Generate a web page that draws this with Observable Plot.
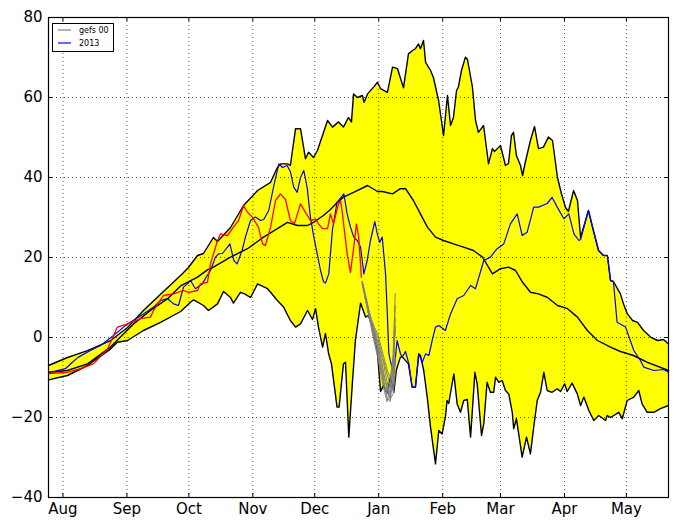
<!DOCTYPE html>
<html>
<head>
<meta charset="utf-8">
<script src="https://cdn.jsdelivr.net/npm/d3@7"></script>
<script src="https://cdn.jsdelivr.net/npm/@observablehq/plot@0.6"></script>
<style>
  html, body { margin: 0; padding: 0; background: #fff; }
  #wrap { position: relative; width: 677px; height: 528px; }
  #legend { position: absolute; left: 52px; top: 23px; }
</style>
</head>
<body>
<div id="wrap"></div>
<script>
// Day offsets are counted from 25 Jul 2013.
const startDay = Date.UTC(2013, 6, 25);
const toDate = d => new Date(startDay + d * 864e5);

const monthTicks = ["2013-08-01","2013-09-01","2013-10-01","2013-11-01","2013-12-01","2014-01-01","2014-02-01","2014-03-01","2014-04-01","2014-05-01"];
const monthLabels = ["Aug","Sep","Oct","Nov","Dec","Jan","Feb","Mar","Apr","May"];
const yTicks = [-40, -20, 0, 20, 40, 60, 80];
const legendLabels = ["gefs 00", "2013"];
const legendColors = ["#808080", "#0000ff"];

const upperDay = [0,9.2,18.9,30,38.3,46,55.7,64,67.8,72.2,75.1,79.9,81.9,88.2,94.5,101.3,107.6,110.9,112.4,115.8,117.2,119.7,122.1,124.5,126,128.4,130.3,135.2,137.6,140.5,142.9,145.3,146.8,147.8,149.7,152.1,152.9,154.6,157.5,159.4,160.9,164.2,166.7,169.1,172,174.4,176.4,177.8,179.3,180.2,181.7,182.7,185.1,186.5,189,191.4,193.3,194.8,196.2,197.7,198.6,200.1,202,203,205.4,206.9,208.3,210.8,213.2,215.1,216.1,219,221.4,222.9,224.3,225.3,226.7,228.7,229.7,231.1,233.5,235.5,237.4,239.8,242.2,244.2,246.6,248.5,250.5,251.9,254.4,256.3,257.8,261.6,264,266.5,268.9,270.8,272.3,273.7,277.1,278.6,280.5,283,285.4,288.3,291.7,295.1,298,300.4];
const upperVal = [-7,-5,-3.3,-0.8,2.5,6.75,11.5,15.5,17.5,20.5,21,25,24,27.5,33,36.75,38.8,42.5,43.4,43.4,43,52.2,52.2,44.7,46.3,45,46.75,54.25,52.6,53.9,52.6,55,53.9,60.9,60,60.5,58.8,60.9,62.6,63.8,62.2,61.3,67.6,67.2,62.4,70.9,71.75,72.2,73.4,72.2,74.25,68.8,66.75,65,59.25,50.5,60.5,53,55,61.75,62.6,66.75,70.1,69.5,62.6,54.25,51.3,53,43.4,47.2,46.5,48,43,43.5,50.5,51.3,45.5,43,40.5,44,49.25,52.75,47.2,47.6,50.1,49.25,40,36,32.5,31.5,36.75,34.25,25,31.75,26.75,21.75,20.5,20.5,14.25,14,10.9,8.4,5.9,4.25,3.8,1.75,0.1,-0.75,-0.5,-1.6];

const lowerDay = [0,9.2,18.9,30,33.4,38.3,46,54.3,64,68.8,70.3,75.1,77.5,81.9,84.8,88.2,89.6,93,95,97.9,101.3,106.1,107.6,110.9,113.9,117.2,119.7,122.1,125.5,127.9,129.4,130.8,132.8,134.2,135.7,137.1,139.8,140.8,142.9,143.9,145.5,147.1,148.7,151.2,153.6,155,157.5,159.4,160.9,162.3,164.1,165.7,167.3,168.6,170.5,171.5,174.4,176.2,177.8,179.4,180.2,181.8,183.5,185.1,187.5,189.1,190.7,192.3,193.1,193.9,196.4,198,199.6,201.2,202.9,204.5,206.6,207.7,209.8,210.9,212.5,214.1,215.7,216.6,218.2,219.8,221.4,223,224.7,225.4,226.7,229.5,231.6,233.5,235.1,236.8,238.4,240,241.6,244,246.5,248.1,250.1,251.3,253.7,256.2,257.8,259.4,261.8,264.2,266.6,269.9,270.7,272.3,276.3,278,280.4,283.6,286,287.6,290.1,293.3,296.5,300.4];
const lowerVal = [-10.6,-9.5,-7,-2.9,-1.2,-0.75,1.75,3.8,6.5,8.8,9.4,8,6.75,8.4,11.5,10,8.6,11.3,10.9,10,13.4,12.2,11.3,9.25,7.6,4.25,2.6,3.4,6.75,4.5,7.2,2.6,-2.4,1,-4,-6.6,-17.4,-17.4,-6.6,-6.2,-24.9,-12.4,-0.75,8.6,5.1,5.5,1.75,-4,-13.5,-12,-14,-10,-13.7,-8,-4.9,-4.9,-6.6,-12.4,-12.4,-4.1,-4.5,-8.25,-14.9,-22.4,-31.6,-23.25,-24.1,-19.9,-15.75,-16.5,-9.1,-16.6,-18.7,-15.75,-15.5,-24.9,-8.7,-11.6,-24.5,-21.6,-11.2,-13.7,-13.7,-9.9,-11.2,-10.75,-13.25,-14.1,-18.7,-22.8,-20.3,-29.9,-24.9,-29.1,-22.4,-15.75,-13.7,-8.7,-13.25,-13.7,-12.8,-13.5,-11.6,-13.5,-11.4,-14.1,-17,-14.9,-18.25,-20.75,-19.5,-20.75,-19.5,-20,-18.7,-20.3,-15.75,-14.9,-13.25,-16.6,-18.7,-18.7,-17.8,-17];

const meanDay = [0,9.2,18.9,30,41.2,49.4,57.7,64,67.3,72.2,77,79.9,88.2,96.4,104.2,110.9,115.8,120.6,125.5,128.4,133.2,136.6,140,142.9,147.8,154.6,159.4,161.8,166.7,170.5,173,176.8,180.2,183.6,187.5,191.4,196.2,201.1,205.9,210.3,212.7,215.1,219,222.9,226.3,229.7,233.5,237.4,241.8,246.6,251.5,256.3,261.1,266,272.3,277.1,283.4,290.2,300.4];
const meanVal = [-8.7,-8.25,-6.6,-2.4,3.4,6.75,9.7,12.9,13.8,15.1,16.9,17.6,20.1,22.2,25.1,27.2,28.8,28,28,28.8,30.5,32,33.8,35.1,36.3,38,36.5,36.5,35.9,37.2,37.2,34.25,30.9,27.6,25.1,24.25,23.4,22.6,21.75,20.1,18,15.9,17.2,17.6,16.75,13.8,11.3,10.9,10,8,7.2,5.1,1.75,-0.75,-2.4,-3.5,-4.5,-6.2,-8.25];

const blueDay = [1,8.2,11.6,14.5,20.3,25.2,31.5,38.3,46,50.9,54.3,57.7,60.6,63,65.4,67.3,68.8,71.2,74.5,76.9,78.5,80.9,82.4,84.3,86.7,87.9,89.8,91.4,93.8,95.4,97.9,100.3,102.7,104.3,106.7,109.2,111.6,113.4,115.6,117.2,118.8,120.5,122.1,123.7,125.3,126.9,128.5,130.2,131.8,133.2,134.2,135.8,137.6,139.8,143.1,144.7,146.3,147.9,149.6,151.2,152.8,154.4,156,158.1,159.3,160.5,161.7,163.3,164.1,164.9,165.7,167.3,168.9,170.5,171.4,173,174.6,176.2,177.8,179.4,181.1,182.7,184.3,185.9,187.5,189.1,192.3,194.8,198,201.2,204.5,206.9,210.9,214.1,217.4,220.6,223.8,227.1,229.5,231.9,235.1,237.5,241.6,244,246.5,249.7,252.1,254.6,257,257.8,261.6,264,266.5,268.9,270.8,272.3,273.7,275.5,279.6,283.6,286.8,288.4,293.3,298.1,300.4];
const blueVal = [-8.7,-7.8,-6.2,-4.9,-3.25,-2,0.5,3.4,5.9,7.6,9.25,9.7,8.4,8,12.6,13.4,14.25,12.2,13.4,15.5,16.75,20.1,20.9,21,22.6,23.4,19.25,18.4,21.75,25.1,29.25,30.1,29.25,29.5,31.75,38,43.4,42.5,43,41.5,37.6,36.3,40,41.75,37.6,30.1,25.3,20.9,16.75,14,13.6,15.9,27,33.8,35.9,30.9,27.6,25.1,24.25,22.6,15.9,19.25,24.25,29,25.9,23.8,25.1,15.9,6.75,-4,-6,-9,-0.75,-4,-4.9,-3.5,-6.6,-12.4,-12.4,-4.1,-6.2,-4.1,-4.5,-0.75,2.6,3,1.75,5.9,9.7,10.5,13,12.2,19.25,20.1,22.2,23.4,28.4,30.9,25.5,26.3,32.6,32.6,33.5,35,32.6,29.7,30.9,25.9,24.25,24.5,31.75,26.75,21.75,20.5,20.5,14.25,14,3.8,2.6,-3.25,-5.75,-7.4,-8.25,-8,-8.7];

const redDay = [0,9.2,15.5,21.8,28.6,33.4,38.3,44.6,49.4,50.9,55.7,60.6,65.4,67.8,72.2,73.6,77,78.5,81.9,83.3,86.7,89.6,92.1,94.5,96.4,98.8,101.7,103.7,105.1,107.6,110,112.4,114.8,117.2,119.2,122.1,124.5,126.9,129.4,130.8,132.8,135.2,136.6,138.1,140.5,141.5,142.4,144.7,146.3,147.9,149.2,150.3,151.6];
const redVal = [-9,-8.7,-7.8,-6.6,-2.9,2.6,3.4,4.7,5.1,6.75,10.5,10.9,11.75,11.3,11.75,13.4,13.8,18.4,24.25,25.9,25.5,27.6,29.25,33,31.3,30.1,27.6,23.4,23,27.6,34.25,35.9,34.5,29.25,28.5,33.4,31.3,29.25,29.6,28.4,27.2,27.2,30.9,28.4,33.4,34.25,31,20.9,16.3,22.6,28.4,25.1,15.1];

const gefsDay = [152,153.5,155,156.5,158,159.5,161,162.5,164,165.5,167,168];
const gefsMembers = [
  [14,10,7,3,1,-2,-5,-9,-13,-15,-8,2],
  [14,11,7.5,4,2,0,-3,-7,-11,-14,-12,-5],
  [13.5,10.5,6.5,3.5,0,-3,-7,-11,-15,-16,-10,5],
  [14,10,6,2.5,-1,-4,-8,-12,-14,-12,-4,11],
  [13.5,9.5,6,3,1.5,-1,-4,-6,-9,-12,-13,-6],
  [14,10.5,7,4.5,2.5,1,-2,-5,-8,-10,-6,3],
  [13.5,10,6.5,2,-1.5,-5,-9,-13,-16,-13,-6,8],
  [14,10,6,3,0.5,-2.5,-6,-10,-12,-15.5,-14,-9]
];

const pts = (days, vals) => days.map((d, i) => ({date: toDate(d), v: vals[i]}));
const upper = pts(upperDay, upperVal);
const lower = pts(lowerDay, lowerVal);
const band = upper.concat(lower.slice().reverse());
const mean = pts(meanDay, meanVal);
const blue = pts(blueDay, blueVal);
const red = pts(redDay, redVal);
const gefs = gefsMembers.flatMap((m, k) => m.map((v, i) => ({date: toDate(gefsDay[i]), v, member: k})));
const monthDates = monthTicks.map(s => new Date(s + "T00:00:00Z"));
const xStart = toDate(0), xEnd = toDate(300.4);
const labelOf = d => monthLabels[monthDates.findIndex(m => +m === +d)];

const grid = {stroke: "#000", strokeWidth: 0.8, strokeDasharray: "1,3", strokeOpacity: 0.85};

const chart = Plot.plot({
  width: 677, height: 528,
  marginLeft: 48, marginRight: 9, marginTop: 17, marginBottom: 31,
  x: {type: "utc", domain: [xStart, xEnd], label: null},
  y: {domain: [-40, 80], label: null},
  style: {fontFamily: "'DejaVu Sans', sans-serif", fontSize: "15px", background: "#fff", color: "#000", overflow: "visible"},
  marks: [
    Plot.line(band, {x: "date", y: "v", fill: "#ffff00", stroke: "none"}),
    Plot.ruleX(monthDates, grid),
    Plot.ruleY(yTicks, grid),
    Plot.line(upper, {x: "date", y: "v", stroke: "#000", strokeWidth: 1.4}),
    Plot.line(lower, {x: "date", y: "v", stroke: "#000", strokeWidth: 1.4}),
    Plot.line(mean, {x: "date", y: "v", stroke: "#000", strokeWidth: 1.4}),
    Plot.line(blue, {x: "date", y: "v", stroke: "#0000ff", strokeWidth: 1.2}),
    Plot.line(red, {x: "date", y: "v", stroke: "#ff0000", strokeWidth: 1.3}),
    Plot.line(gefs, {x: "date", y: "v", z: "member", stroke: "#808080", strokeWidth: 1}),
    // inward ticks
    Plot.ruleX(monthDates, {y1: -40, y2: -39, stroke: "#000"}),
    Plot.ruleX(monthDates, {y1: 80, y2: 79, stroke: "#000"}),
    Plot.ruleY(yTicks, {x1: xStart, x2: toDate(2), stroke: "#000"}),
    Plot.ruleY(yTicks, {x1: toDate(298.4), x2: xEnd, stroke: "#000"}),
    Plot.axisX({ticks: monthDates, tickFormat: labelOf, tickSize: 0, tickPadding: 6, fontSize: 15, label: null}),
    Plot.axisY({ticks: yTicks, tickFormat: d => d < 0 ? "\u2212" + (-d) : String(d), tickSize: 0, tickPadding: 6, fontSize: 15, label: null}),
    Plot.frame({stroke: "#000", strokeWidth: 1.2})
  ]
});

const wrap = document.getElementById("wrap");
wrap.appendChild(chart);

// legend box (inside the axes, top-left)
const ns = "http://www.w3.org/2000/svg";
const lg = document.createElementNS(ns, "svg");
lg.setAttribute("id", "legend");
lg.setAttribute("width", "62");
lg.setAttribute("height", "29");
let inner = '<rect x="0.5" y="0.5" width="61" height="28" fill="#fff" stroke="#000" stroke-width="1"/>';
legendLabels.forEach((t, i) => {
  const cy = 7 + i * 13;
  inner += `<line x1="6" x2="19" y1="${cy}" y2="${cy}" stroke="${legendColors[i]}" stroke-width="1.2"/>`;
  inner += `<text x="27" y="${cy}" dy="0.32em" font-family="DejaVu Sans, sans-serif" font-size="8" fill="#000">${t}</text>`;
});
lg.innerHTML = inner;
wrap.appendChild(lg);
</script>
</body>
</html>
